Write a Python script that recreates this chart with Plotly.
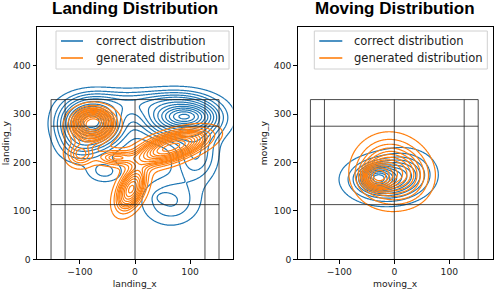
import numpy as np
import plotly.graph_objects as go

# ---------------- data ----------------
# Gaussian-mixture components approximating each KDE: mx, my, sx, sy, rho, weight
landing_correct = [
    (-80, 285, 16, 13, 0.0, 0.08),
    (-80, 280, 33, 30, 0.0, 0.22),
    (90, 295, 22, 11, 0.0, 0.07),
    (85, 292, 42, 27, 0.0, 0.22),
    (0, 322, 65, 19, 0.0, 0.06),
    (-55, 182, 22, 16, 0.0, 0.012),
    (-105, 230, 25, 22, 0.0, 0.015),
    (65, 120, 35, 33, 0.0, 0.05),
    (110, 215, 25, 35, 0.0, 0.05),
    (50, 128, 9, 7, 0.0, 0.001),
]
landing_generated = [
    (-75, 280, 22, 19, 0.0, 0.22),
    (-88, 255, 25, 28, 0.0, 0.06),
    (-100, 215, 16, 16, 0.0, 0.04),
    (72, 235, 38, 20, 0.55, 0.30),
    (40, 215, 30, 18, 0.3, 0.06),
    (-7, 145, 17, 28, 0.45, 0.17),
    (-35, 210, 22, 10, 0.0, 0.04),
]
moving_correct = [
    (-30, 167, 15, 12, 0.0, 0.25),
    (-15, 165, 38, 25, 0.0, 0.60),
    (20, 185, 30, 25, 0.0, 0.15),
]
moving_generated = [
    (-30, 172, 15, 15, 0.0, 0.20),
    (-10, 182, 32, 36, 0.0, 0.65),
    (25, 170, 25, 30, 0.0, 0.15),
]
court_x = [-152.5, -127, 0, 127, 152.5]
court_y = [113, 275, 330]
court_bottom = 0
x_ticks = [-100, 0, 100]
y_ticks = [0, 100, 200, 300, 400]
series_names = ["correct distribution", "generated distribution"]
titles = ["Landing Distribution", "Moving Distribution"]
x_titles = ["landing_x", "moving_x"]
y_titles = ["landing_y", "moving_y"]

BLUE = "#1f77b4"
ORANGE = "#ff7f0e"
N_LEVELS = 14

gx = np.linspace(-200, 200, 321)
gy = np.linspace(-20, 500, 417)
XX, YY = np.meshgrid(gx, gy)


def density(comps):
    z = np.zeros_like(XX)
    for mx, my, sx, sy, rho, w in comps:
        dx = (XX - mx) / sx
        dy = (YY - my) / sy
        q = (dx * dx - 2 * rho * dx * dy + dy * dy) / (1 - rho * rho)
        z += w * np.exp(-0.5 * q) / (2 * np.pi * sx * sy * np.sqrt(1 - rho * rho))
    return z


def iso_levels(z, n):
    props = np.linspace(0.05, 1, n)[:-1]
    v = np.sort(z.ravel())[::-1]
    c = np.cumsum(v) / v.sum()
    idx = np.clip(np.searchsorted(c, 1 - props), 0, len(v) - 1)
    return v[idx]


fig = go.Figure()


def add_kde(comps, color, xa, ya):
    z = density(comps)
    for lv in iso_levels(z, N_LEVELS):
        fig.add_trace(go.Contour(
            x=gx, y=gy, z=z, xaxis=xa, yaxis=ya,
            contours=dict(start=lv, end=lv, size=1, coloring="lines"),
            colorscale=[[0, color], [1, color]], showscale=False,
            line=dict(width=1.2), hoverinfo="skip", showlegend=False,
        ))


def add_court(xa, ya):
    top = max(court_y)
    for cx in court_x:
        fig.add_trace(go.Scatter(x=[cx, cx], y=[court_bottom, top], mode="lines",
                                 line=dict(color="rgba(30,30,30,0.8)", width=1),
                                 xaxis=xa, yaxis=ya, showlegend=False, hoverinfo="skip"))
    for cy in court_y:
        fig.add_trace(go.Scatter(x=[min(court_x), max(court_x)], y=[cy, cy], mode="lines",
                                 line=dict(color="rgba(30,30,30,0.8)", width=1),
                                 xaxis=xa, yaxis=ya, showlegend=False, hoverinfo="skip"))


add_kde(landing_correct, BLUE, "x", "y")
add_kde(landing_generated, ORANGE, "x", "y")
add_court("x", "y")
add_kde(moving_correct, BLUE, "x2", "y2")
add_kde(moving_generated, ORANGE, "x2", "y2")
add_court("x2", "y2")

W, H = 494, 290
def px(x):
    return x / W
def py(y):
    return 1 - y / H

axis_common = dict(showline=True, linecolor="black", linewidth=1, mirror=True,
                   ticks="outside", ticklen=3.5, tickcolor="black", showgrid=False,
                   zeroline=False, automargin=False,
                   tickfont=dict(family="DejaVu Sans", size=9.2, color="#222"),
                   title_font=dict(family="DejaVu Sans", size=9.2, color="#222"))

fig.update_layout(
    width=W, height=H, margin=dict(l=0, r=0, t=0, b=0, autoexpand=False),
    paper_bgcolor="white", plot_bgcolor="white", showlegend=False,
    xaxis=dict(domain=[px(37), px(232.5)], range=[-178, 177], tickvals=x_ticks,
               title=dict(text=x_titles[0], standoff=4), anchor="y", **axis_common),
    yaxis=dict(domain=[py(259.3), py(27)], range=[0, 480], tickvals=y_ticks,
               title=dict(text=y_titles[0], standoff=4), anchor="x", **axis_common),
    xaxis2=dict(domain=[px(297.7), px(492.5)], range=[-175.6, 178.5], tickvals=x_ticks,
                title=dict(text=x_titles[1], standoff=4), anchor="y2", **axis_common),
    yaxis2=dict(domain=[py(259.3), py(27)], range=[0, 480], tickvals=y_ticks,
                title=dict(text=y_titles[1], standoff=4), anchor="x2", **axis_common),
)

# titles
for t, (a, b) in zip(titles, [(37, 232.5), (297.7, 492.5)]):
    fig.add_annotation(text="<b>%s</b>" % t, x=px((a + b) / 2), y=py(8), xref="paper", yref="paper",
                       showarrow=False, xanchor="center", yanchor="middle",
                       font=dict(family="Liberation Sans", size=17, color="black"))

# legends (matplotlib style)
for bx0, bx1, lx0, lx1, tx in [(56, 229, 61, 83, 94), (314.3, 487.3, 319.3, 342.3, 351.7)]:
    fig.add_shape(type="rect", xref="paper", yref="paper", x0=px(bx0), x1=px(bx1), y0=py(69), y1=py(31),
                  line=dict(color="#d0d0d0", width=1), fillcolor="rgba(255,255,255,0.8)", layer="above")
    for name, color, yy in zip(series_names, [BLUE, ORANGE], [41, 58]):
        fig.add_shape(type="line", xref="paper", yref="paper", x0=px(lx0), x1=px(lx1), y0=py(yy), y1=py(yy),
                      line=dict(color=color, width=1.6), layer="above")
        fig.add_annotation(text=name, x=px(tx), y=py(yy), xref="paper", yref="paper", showarrow=False,
                           xanchor="left", yanchor="middle",
                           font=dict(family="DejaVu Sans", size=11.5, color="#222"))

fig.write_html("out.html", config={"displayModeBar": False},
               post_script="document.body.style.margin='0';document.body.style.overflow='hidden';")
